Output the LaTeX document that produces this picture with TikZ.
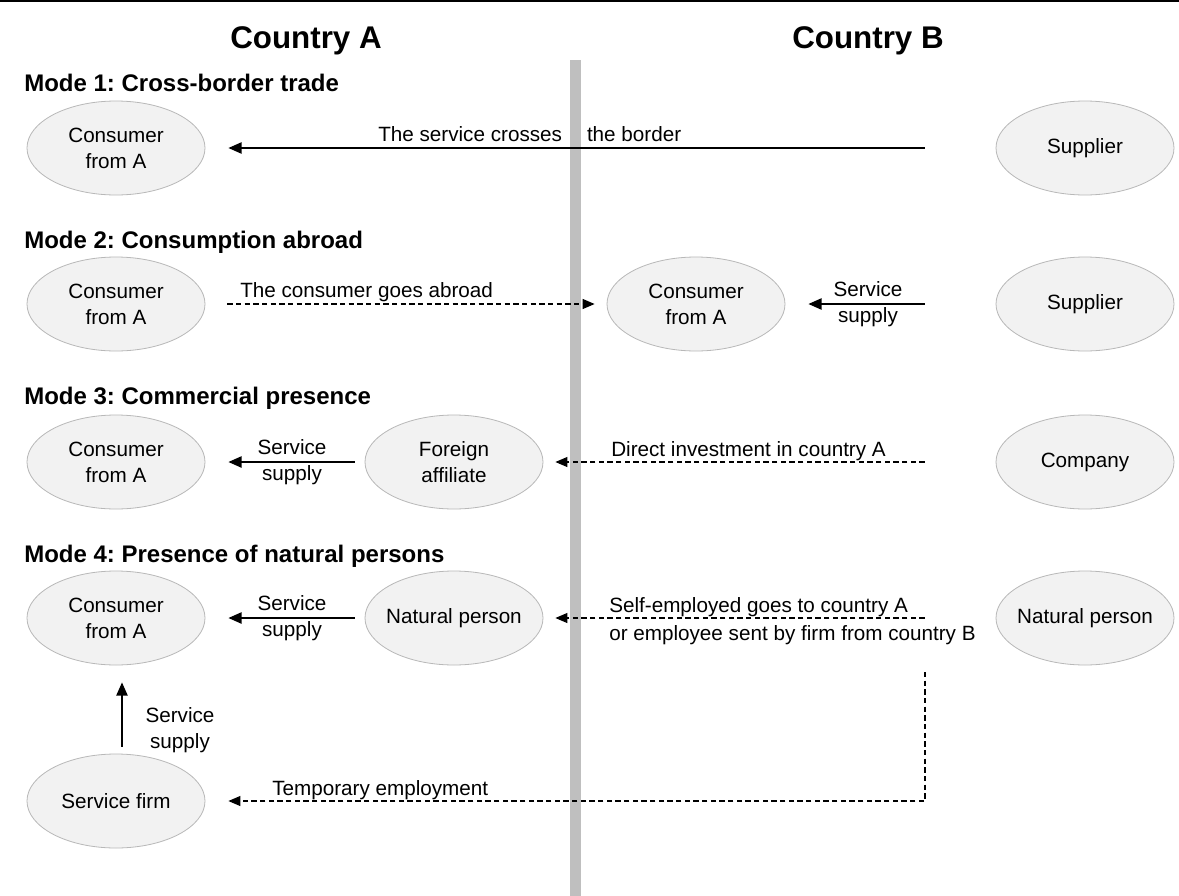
\documentclass[tikz,border=0pt]{standalone}
\usepackage{fontspec}
\setmainfont{Liberation Sans}
\usetikzlibrary{arrows.meta,shapes.geometric}
\frenchspacing
\begin{document}
\begin{tikzpicture}[x=0.75pt,y=-0.75pt,
 oval/.style={ellipse, draw=black!28, fill=black!5, line width=0.6pt, minimum width=133.5pt, minimum height=70.5pt, inner xsep=-20pt, inner ysep=0pt, align=center, font=\fontsize{15.5}{19.5}\selectfont},
 lbl/.style={font=\fontsize{15.5}{19}\selectfont, inner sep=0pt, align=center},
 solidarr/.style={-{Triangle[length=10pt,width=8.5pt]}, line width=1.3pt},
 dasharr/.style={-{Triangle[length=9pt,width=7.5pt]}, line width=0.8pt, dash pattern=on 4pt off 2.5pt},
 mode/.style={font=\fontsize{18}{22}\selectfont\bfseries, anchor=base west, inner sep=0pt},
 head/.style={font=\fontsize{23.5}{28}\selectfont\bfseries, anchor=base, inner sep=0pt}]
\useasboundingbox (0,0) rectangle (1179,896);
\fill[white] (0,0) rectangle (1179,896);
\draw[line width=1.5pt] (0,1) -- (1179,1);
\fill[black!25] (570,60) rectangle (581,896);

\node[head] (hA) at (306,48) {Country A};
\node[head] (hB) at (868,48) {Country B};

\node[mode] (m1) at (24,91) {Mode 1: Cross-border trade};
\node[mode] (m2) at (24,248) {Mode 2: Consumption abroad};
\node[mode] (m3) at (24,404) {Mode 3: Commercial presence};
\node[mode] (m4) at (24,562) {Mode 4: Presence of natural persons};

\node[oval] (c1) at (116,148) {Consumer\\from A};
\node[oval] (s1) at (1085,148) {Supplier};
\node[oval] (c2) at (116,304) {Consumer\\from A};
\node[oval] (mc2) at (696,304) {Consumer\\from A};
\node[oval] (s2) at (1085,304) {Supplier};
\node[oval] (c3) at (116,462) {Consumer\\from A};
\node[oval] (f3) at (454,462) {Foreign\\affiliate};
\node[oval] (k3) at (1085,462) {Company};
\node[oval] (c4) at (116,618) {Consumer\\from A};
\node[oval] (n4) at (454,618) {Natural person};
\node[oval] (b4) at (1085,618) {Natural person};
\node[oval] (sf) at (116,801) {Service firm};

\draw[solidarr, shorten <=53.25pt, shorten >=17.25pt] (s1.west) -- (c1.east);
\draw[dasharr, shorten <=16.5pt, shorten >=9pt] (c2.east) -- (mc2.west);
\draw[solidarr, shorten <=53.25pt, shorten >=17.25pt] (s2.west) -- (mc2.east);
\draw[solidarr, shorten <=7.5pt, shorten >=17.25pt] (f3.west) -- (c3.east);
\draw[dasharr, shorten <=53.25pt, shorten >=9pt] (k3.west) -- (f3.east);
\draw[solidarr, shorten <=7.5pt, shorten >=17.25pt] (n4.west) -- (c4.east);
\draw[dasharr, shorten <=53.25pt, shorten >=9pt] (b4.west) -- (n4.east);
\draw[solidarr, shorten <=5.25pt, shorten >=12.75pt] ([xshift=4.5pt]sf.north) -- ([xshift=4.5pt]c4.south);
\coordinate (t0) at (925,672);
\draw[dasharr, shorten >=17.25pt] (t0) |- (sf.east);

\node[lbl, anchor=base west] (l1) at (378,141) {The service crosses\hspace{18.75pt}the border};
\node[lbl, anchor=base west] (l2) at (240,297) {The consumer goes abroad};
\node[lbl] (l3) at (868,304) {Service\\supply};
\node[lbl] (l4) at (292,462) {Service\\supply};
\node[lbl, anchor=base west] (l5) at (611,456) {Direct investment in country A};
\node[lbl] (l6) at (292,618) {Service\\supply};
\node[lbl, anchor=west, align=left, font=\fontsize{15.5}{21}\selectfont] (l7) at (609,621) {Self-employed goes to country A\\or employee sent by firm from country B};
\node[lbl] (l8) at (180,730) {Service\\supply};
\node[lbl, anchor=base west] (l9) at (272,795) {Temporary employment};
\end{tikzpicture}
\end{document}
